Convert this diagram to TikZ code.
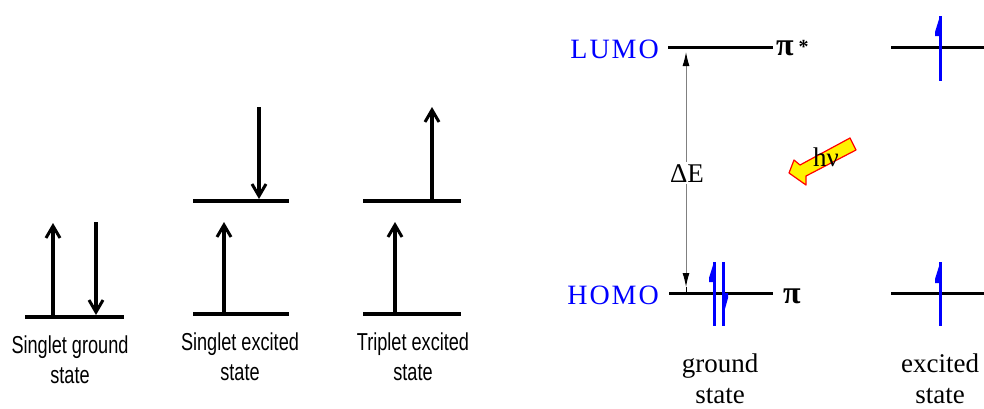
\documentclass[tikz,border=0pt]{standalone}
\usepackage{fontspec}
\setmainfont{Liberation Serif}
\newfontfamily\arialf{Liberation Sans}
\usetikzlibrary{arrows.meta}
\newcommand\nrw[1]{\scalebox{0.74}[1]{#1}}
\begin{document}
\begin{tikzpicture}[x=1pt,y=-1pt,
  level/.style={line width=4.5pt},
  spin/.style={line width=3.2pt,-{Straight Barb[length=12pt,width=14pt,line width=3pt]}},
  lbl/.style={font=\arialf\fontsize{24.5}{28}\selectfont, anchor=base, inner sep=0pt},
  rlbl/.style={font=\fontsize{27}{32}\selectfont, anchor=base, inner sep=0pt},
  rlevel/.style={line width=3pt},
  elec/.style={draw=blue, line width=3pt},
  barb/.style={fill=blue},
  mo/.style={font=\fontsize{28}{32}\selectfont\addfontfeatures{LetterSpace=7}, text=blue, anchor=base east, inner sep=0pt},
  pil/.style={font=\fontsize{32}{34}\selectfont\bfseries, anchor=base west, inner sep=0pt},
]
\useasboundingbox (0,0) rectangle (984,408);

% ---------- left panel ----------
% singlet ground
\coordinate (g1) at (25,317); \coordinate (g2) at (124,317);
\draw[level] (g1) -- (g2);
\coordinate (ga0) at (53,317); \coordinate (ga1) at (53,223);
\coordinate (gb0) at (96,222); \coordinate (gb1) at (96,315);
\draw[spin] (ga0) -- (ga1);
\draw[spin] (gb0) -- (gb1);
\node[lbl] (sg1) at (70,353) {\nrw{Singlet ground}};
\node[lbl] (sg2) at (70,383) {\nrw{state}};

% singlet excited
\coordinate (s1) at (193,314); \coordinate (s2) at (289,314);
\coordinate (s3) at (193,201); \coordinate (s4) at (289,201);
\draw[level] (s1) -- (s2);
\draw[level] (s3) -- (s4);
\coordinate (sa0) at (224,314); \coordinate (sa1) at (224,222);
\coordinate (sb0) at (259,107); \coordinate (sb1) at (259,199);
\draw[spin] (sa0) -- (sa1);
\draw[spin] (sb0) -- (sb1);
\node[lbl] (se1) at (240,350) {\nrw{Singlet excited}};
\node[lbl] (se2) at (240,380) {\nrw{state}};

% triplet excited
\coordinate (t1) at (363,314); \coordinate (t2) at (461,314);
\coordinate (t3) at (363,201); \coordinate (t4) at (461,201);
\draw[level] (t1) -- (t2);
\draw[level] (t3) -- (t4);
\coordinate (ta0) at (395,314); \coordinate (ta1) at (395,222);
\coordinate (tb0) at (432,201); \coordinate (tb1) at (432,107);
\draw[spin] (ta0) -- (ta1);
\draw[spin] (tb0) -- (tb1);
\node[lbl] (te1) at (413,350) {\nrw{Triplet excited}};
\node[lbl] (te2) at (413,380) {\nrw{state}};

% ---------- right panel ----------
\coordinate (l1) at (668,47); \coordinate (l2) at (773,47);
\coordinate (h1) at (669,293); \coordinate (h2) at (773,293);
\coordinate (el1) at (891,47); \coordinate (el2) at (984,47);
\coordinate (eh1) at (891,293); \coordinate (eh2) at (984,293);
\draw[rlevel] (l1) -- (l2);
\draw[rlevel] (h1) -- (h2);
\draw[rlevel] (el1) -- (el2);
\draw[rlevel] (eh1) -- (eh2);

\node[mo] (lumo) at (659,58) {LUMO};
\node[mo] (homo) at (659,304) {HOMO};
\node[pil] (pistar) at (776,55) {π\hspace{5pt}\raisebox{2pt}{\fontsize{20}{20}\selectfont *}};
\node[pil] (pi) at (783,303) {π};

% Delta E
\coordinate (dtop) at (686,52);
\coordinate (dbot) at (686,287);
\coordinate (dend) at (686,293);
\draw[gray, line width=1pt, {Latex[black,length=14pt,width=7pt]}-{Latex[black,length=14pt,width=7pt]}] (dtop) -- (dbot);
\draw[black, line width=1pt] (dbot) -- (dend);
\node[rlbl, fill=white, inner sep=2pt] (de) at (687,182) {ΔE};

% electrons ground state
\coordinate (e1a) at (714,262); \coordinate (e1b) at (714,326);
\draw[elec] (e1a) -- (e1b);
\fill[barb] (714,262) -- (709,278) -- (709,282) -- (714,282) -- cycle;
\coordinate (e2a) at (723,262); \coordinate (e2b) at (723,326);
\draw[elec] (e2a) -- (e2b);
\fill[barb] (723,316) -- (728,298) -- (728,293) -- (723,293) -- cycle;

% electrons excited state
\coordinate (e3a) at (940,16); \coordinate (e3b) at (940,81);
\draw[elec] (e3a) -- (e3b);
\fill[barb] (940,16) -- (935,32) -- (935,36) -- (940,36) -- cycle;
\coordinate (e4a) at (940,262); \coordinate (e4b) at (940,326);
\draw[elec] (e4a) -- (e4b);
\fill[barb] (940,263) -- (935,279) -- (935,283) -- (940,283) -- cycle;

% photon arrow
\draw[fill=yellow, draw=red, line width=1.2pt, line join=round]
  (789,173) -- (794,160) -- (800,165) -- (850,138) -- (856,150) -- (806,176) -- (806,185) -- cycle;
\node[font=\fontsize{27}{28}\selectfont, inner sep=0pt] (hnu) at (826,157) {hν};

\node[rlbl] (gs1) at (720,372) {ground};
\node[rlbl] (gs2) at (720,403) {state};
\node[rlbl] (es1) at (940,372) {excited};
\node[rlbl] (es2) at (940,403) {state};
\end{tikzpicture}
\end{document}
